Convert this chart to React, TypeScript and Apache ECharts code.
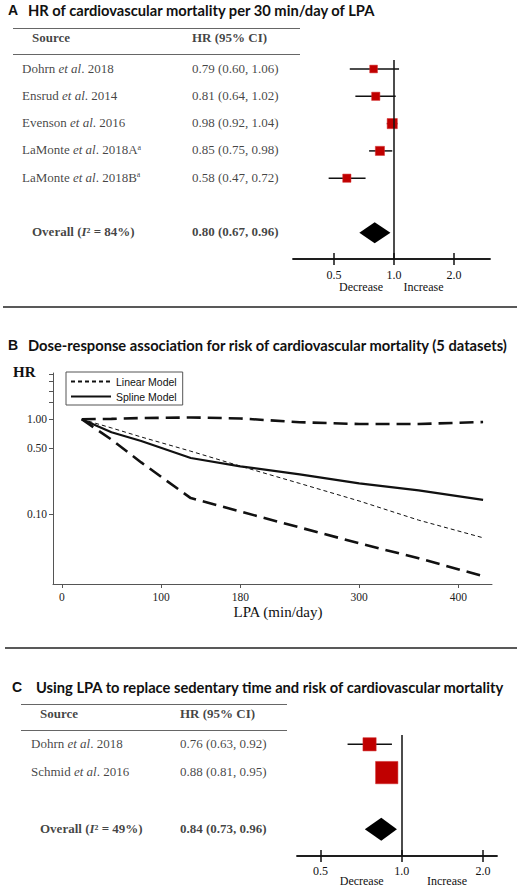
import React, { useEffect, useRef } from "react";
import * as echarts from "echarts";

// ---- Panel A: HR per 30 min/day of LPA ----
const authorsA = ["Dohrn", "Ensrud", "Evenson", "LaMonte", "LaMonte"];
const yearsA = ["2018", "2014", "2016", "2018A", "2018B"];
const notesA = ["", "", "", "a", "a"];
const hrA = [0.79, 0.81, 0.98, 0.85, 0.58];
const lowerA = [0.6, 0.64, 0.92, 0.75, 0.47];
const upperA = [1.06, 1.02, 1.04, 0.98, 0.72];
const weightA = [15, 17, 26, 21, 17];
const overallA = [0.8, 0.67, 0.96]; // HR, lower, upper
const i2A = 84;

// ---- Panel B: dose-response ----
const lpaMinutes = [20, 50, 80, 130, 180, 240, 300, 360, 425];
const linearHR = [1.0, 0.81, 0.65, 0.46, 0.32, 0.21, 0.137, 0.086, 0.056];
const splineHR = [1.0, 0.73, 0.59, 0.39, 0.318, 0.262, 0.21, 0.177, 0.141];
const splineUpperHR = [1.0, 1.01, 1.03, 1.045, 1.02, 0.93, 0.89, 0.89, 0.935];
const splineLowerHR = [1.0, 0.61, 0.35, 0.147, 0.106, 0.072, 0.049, 0.034, 0.022];
const lpaTicks = [0, 100, 180, 300, 400];
const hrTicks = [0.1, 0.5, 1.0];
const hrMinorTicks = [1.5, 2, 2.5, 3];

// ---- Panel C: replacing sedentary time ----
const authorsC = ["Dohrn", "Schmid"];
const yearsC = ["2018", "2016"];
const hrC = [0.76, 0.88];
const lowerC = [0.63, 0.81];
const upperC = [0.92, 0.95];
const weightC = [26, 74];
const overallC = [0.84, 0.73, 0.96];
const i2C = 49;

const forestTicks = [0.5, 1.0, 2.0];

const SERIF = "'Liberation Serif', 'Times New Roman', serif";
const SANS = "'Liberation Sans', Arial, sans-serif";
const TITLE = "Lato, 'Noto Sans', sans-serif";

const rich = {
  n: { fontFamily: SERIF, fontSize: 13, color: "#111" },
  i: { fontFamily: SERIF, fontSize: 13, fontStyle: "italic", color: "#111" },
  sup: { fontFamily: SERIF, fontSize: 8, color: "#111", verticalAlign: "top" },
  h: { fontFamily: SERIF, fontSize: 13, fontWeight: "bold", color: "#111" },
  b: { fontFamily: SERIF, fontSize: 13, fontWeight: "bold", color: "#111" },
  bi: { fontFamily: SERIF, fontSize: 13, fontWeight: "bold", fontStyle: "italic", color: "#111" },
};

const fmt = (v: number) => v.toFixed(2);
const ci = (hr: number, lo: number, hi: number) => `${fmt(hr)} (${fmt(lo)}, ${fmt(hi)})`;

// rows are 0..n-1, pooled estimate sits one empty row below
function tableSeries(
  xAxisIndex: number,
  yAxisIndex: number,
  authors: string[],
  years: string[],
  notes: string[],
  hr: number[],
  lo: number[],
  hi: number[],
  overall: number[],
  i2: number,
  cols: number[], // [study col, hr col, header/overall col]
  headerRow: number,
  lines: number[]
) {
  const data: any[] = [
    { value: [cols[2], headerRow], label: { formatter: "{h|Source}" } },
    { value: [cols[1], headerRow], label: { formatter: "{h|HR (95% CI)}" } },
  ];
  authors.forEach((a, i) => {
    data.push({
      value: [cols[0], i],
      label: {
        formatter: `{n|${a} }{i|et al}{n|. ${years[i]}}` + (notes[i] ? `{sup|${notes[i]}}` : ""),
      },
    });
    data.push({ value: [cols[1], i], label: { formatter: `{n|${ci(hr[i], lo[i], hi[i])}}` } });
  });
  const pooledRow = authors.length + 1;
  data.push({ value: [cols[2], pooledRow], label: { formatter: `{b|Overall (}{bi|I}{b|² = ${i2}%)}` } });
  data.push({ value: [cols[1], pooledRow], label: { formatter: `{b|${ci(overall[0], overall[1], overall[2])}}` } });
  return {
    type: "scatter",
    xAxisIndex,
    yAxisIndex,
    symbolSize: 0,
    silent: true,
    clip: false,
    data,
    label: { show: true, position: "right", distance: 0, offset: [0, -1], rich },
    markLine: {
      silent: true,
      symbol: ["none", "none"],
      label: { show: false },
      lineStyle: { color: "#666", width: 1.2, type: "solid" },
      data: lines.map((y) => ({ yAxis: y })),
    },
  };
}

function forestRender(scale: number, diamondH: number) {
  return (_params: any, api: any) => {
    const est = api.value(0);
    const row = api.value(1);
    const c = api.coord([est, row]);
    const a = api.coord([api.value(2), row]);
    const b = api.coord([api.value(3), row]);
    const w = api.value(4);
    if (w <= 0) {
      return {
        type: "polygon",
        shape: { points: [a, [c[0], c[1] - diamondH / 2], b, [c[0], c[1] + diamondH / 2]] },
        style: { fill: "#000" },
      };
    }
    const s = scale * Math.sqrt(w);
    return {
      type: "group",
      children: [
        {
          type: "line",
          shape: { x1: a[0], y1: a[1], x2: b[0], y2: b[1] },
          style: { stroke: "#111", lineWidth: 1.5 },
        },
        {
          type: "rect",
          shape: { x: c[0] - s / 2, y: c[1] - s / 2, width: s, height: s },
          style: { fill: "#c00000", stroke: "#d43030", lineWidth: 0.5 },
        },
      ],
    };
  };
}

function forestSeries(xAxisIndex: number, yAxisIndex: number, hr: number[], lo: number[], hi: number[], w: number[], overall: number[], scale: number, diamondH: number) {
  const data = hr.map((v, i) => [v, i, lo[i], hi[i], w[i]]);
  data.push([overall[0], hr.length + 1, overall[1], overall[2], 0]);
  return {
    type: "custom",
    xAxisIndex,
    yAxisIndex,
    silent: true,
    data,
    encode: { x: [0, 2, 3], y: 1 },
    renderItem: forestRender(scale, diamondH),
    markLine: {
      silent: true,
      symbol: ["none", "none"],
      label: { show: false },
      lineStyle: { color: "#111", width: 1.5, type: "solid" },
      data: [{ xAxis: 1 }],
    },
  };
}

// two bottom axes on the same grid so the ticks cross the axis line
function forestXAxes(gridIndex: number, min: number, max: number, margin: number) {
  const base = {
    type: "log",
    logBase: 2,
    gridIndex,
    position: "bottom",
    offset: 0,
    min,
    max,
    splitLine: { show: false },
    axisLine: { show: true, onZero: false, lineStyle: { color: "#111", width: 1.5 } },
  };
  return [
    {
      ...base,
      axisTick: { show: true, customValues: forestTicks, length: 6, lineStyle: { color: "#111", width: 1.5 } },
      axisLabel: {
        customValues: forestTicks,
        formatter: (v: number) => Number(v).toFixed(1),
        margin,
        fontFamily: SERIF,
        fontSize: 12,
        color: "#111",
      },
    },
    {
      ...base,
      axisTick: { show: true, inside: true, customValues: forestTicks, length: 6, lineStyle: { color: "#111", width: 1.5 } },
      axisLabel: { show: false },
    },
  ];
}

// y range (in row units) for a grid spanning pixel top..bottom
const rowRange = (top: number, bottom: number, row0: number, step: number) => [(top - row0) / step, (bottom - row0) / step];
// log2 range for a forest axis whose 1.0 sits at oneX
const hrRange = (left: number, right: number, oneX: number, perDoubling: number) => [
  Math.pow(2, (left - oneX) / perDoubling),
  Math.pow(2, (right - oneX) / perDoubling),
];

const hiddenAxis = (gridIndex: number, min: number, max: number, inverse = false) => ({
  type: "value",
  gridIndex,
  min,
  max,
  inverse,
  show: false,
  splitLine: { show: false },
});

function titleText(letter: string, text: string, lx: number, tx: number, y: number) {
  return [
    { type: "text", x: lx, y, style: { text: letter, fontFamily: SANS, fontWeight: "bold", fontSize: 14, fill: "#111", verticalAlign: "middle" } },
    { type: "text", x: tx, y, style: { text, fontFamily: TITLE, fontWeight: "bold", fontSize: 14.7, fill: "#111", verticalAlign: "middle" } },
  ];
}

const noteText = (text: string, x: number, y: number) => ({
  type: "text",
  x,
  y,
  style: { text, fontFamily: SERIF, fontSize: 12, fill: "#111", align: "center", verticalAlign: "middle" },
});

export default function App() {
  const chartRef = useRef<HTMLDivElement>(null);

  useEffect(() => {
    if (!chartRef.current) return;
    const chart = echarts.init(chartRef.current, undefined, { renderer: "svg" });

    const tA = rowRange(28.3, 259, 69, 27.3);
    const fA = rowRange(60, 259, 69, 27.3);
    const tC = rowRange(704, 856, 744.3, 28.3);
    const fC = rowRange(735, 856, 744.3, 28.3);
    const xA = hrRange(293, 490, 394, 60);
    const xC = hrRange(297, 497, 401.7, 81.2);

    const option: any = {
      animation: false,
      backgroundColor: "#fff",
      grid: [
        { left: 13, top: 28.3, width: 287, height: 259 - 28.3 },
        { left: 293, top: 60, width: 197, height: 199 },
        { left: 53, top: 373, width: 439, height: 211 },
        { left: 21, top: 704, width: 266, height: 152 },
        { left: 297, top: 735, width: 200, height: 121 },
      ],
      // xAxis: 0 table A | 1,2 forest A | 3 panel B | 4 table C | 5,6 forest C
      xAxis: [
        hiddenAxis(0, 0, 287),
        ...forestXAxes(1, xA[0], xA[1], 10),
        {
          type: "value",
          gridIndex: 2,
          min: -9,
          max: 434,
          splitLine: { show: false },
          axisLine: { onZero: false, lineStyle: { color: "#555", width: 1 } },
          axisTick: { customValues: lpaTicks, length: 4, lineStyle: { color: "#555" } },
          axisLabel: { customValues: lpaTicks, margin: 7, fontFamily: SERIF, fontSize: 11.5, color: "#222" },
          name: "LPA (min/day)",
          nameLocation: "middle",
          nameGap: 20,
          nameTextStyle: { fontFamily: SERIF, fontSize: 15, color: "#111", verticalAlign: "top", padding: [0, 0, 0, 11] },
        },
        hiddenAxis(3, 0, 266),
        ...forestXAxes(4, xC[0], xC[1], 9),
      ],
      // yAxis: 0 table A | 1 forest A | 2 panel B | 3 table C | 4 forest C
      yAxis: [
        hiddenAxis(0, tA[0], tA[1], true),
        hiddenAxis(1, fA[0], fA[1], true),
        {
          type: "log",
          logBase: 10,
          gridIndex: 2,
          min: 0.0182,
          max: 3.08,
          splitLine: { show: false },
          axisLine: { show: true, onZero: false, lineStyle: { color: "#555", width: 1 } },
          axisTick: { show: true, customValues: [...hrTicks, ...hrMinorTicks], length: 4, lineStyle: { color: "#555" } },
          axisLabel: {
            customValues: hrTicks,
            formatter: (v: number) => Number(v).toFixed(2),
            margin: 6,
            fontFamily: SERIF,
            fontSize: 11.5,
            color: "#222",
          },
        },
        hiddenAxis(3, tC[0], tC[1], true),
        hiddenAxis(4, fC[0], fC[1], true),
      ],
      legend: {
        data: ["Linear Model", "Spline Model"],
        orient: "vertical",
        left: 66,
        top: 372,
        padding: [4, 6, 3, 4],
        itemGap: 4,
        itemWidth: 40,
        itemHeight: 11,
        borderColor: "#555",
        borderWidth: 1,
        selectedMode: false,
        itemStyle: { opacity: 0, color: "transparent", borderWidth: 0 },
        textStyle: { fontFamily: SANS, fontSize: 10.5, color: "#111" },
      },
      series: [
        tableSeries(0, 0, authorsA, yearsA, notesA, hrA, lowerA, upperA, overallA, i2A, [9, 179, 19], -1.12, [tA[0], -0.55]),
        forestSeries(1, 1, hrA, lowerA, upperA, weightA, overallA, 2, 21),
        {
          name: "Linear Model",
          type: "line",
          xAxisIndex: 3,
          yAxisIndex: 2,
          symbol: "none",
          data: lpaMinutes.map((x, i) => [x, linearHR[i]]),
          lineStyle: { color: "#111", width: 1, type: [4, 3] },
          itemStyle: { color: "#111" },
        },
        {
          name: "Spline Model",
          type: "line",
          xAxisIndex: 3,
          yAxisIndex: 2,
          symbol: "none",
          data: lpaMinutes.map((x, i) => [x, splineHR[i]]),
          lineStyle: { color: "#111", width: 2.2 },
          itemStyle: { color: "#111" },
        },
        {
          name: "Upper 95% CI",
          type: "line",
          xAxisIndex: 3,
          yAxisIndex: 2,
          symbol: "none",
          data: lpaMinutes.map((x, i) => [x, splineUpperHR[i]]),
          lineStyle: { color: "#111", width: 2.6, type: [14, 7] },
        },
        {
          name: "Lower 95% CI",
          type: "line",
          xAxisIndex: 3,
          yAxisIndex: 2,
          symbol: "none",
          data: lpaMinutes.map((x, i) => [x, splineLowerHR[i]]),
          lineStyle: { color: "#111", width: 2.6, type: [14, 7] },
        },
        tableSeries(4, 3, authorsC, yearsC, ["", ""], hrC, lowerC, upperC, overallC, i2C, [10, 159, 19], -1.06, [tC[0], -0.51]),
        forestSeries(5, 4, hrC, lowerC, upperC, weightC, overallC, 2.6, 23),
      ],
      graphic: [
        ...titleText("A", "HR of cardiovascular mortality per 30 min/day of LPA", 8, 28, 10),
        ...titleText("B", "Dose-response association for risk of cardiovascular mortality (5 datasets)", 8, 28, 345),
        ...titleText("C", "Using LPA to replace sedentary time and risk of cardiovascular mortality", 12, 36, 687),
        noteText("Decrease", 361, 287),
        noteText("Increase", 423.5, 287),
        noteText("Decrease", 361.7, 880.5),
        noteText("Increase", 447, 881),
        {
          type: "text",
          x: 13,
          y: 372,
          style: { text: "HR", fontFamily: SERIF, fontWeight: "bold", fontSize: 15, fill: "#111", verticalAlign: "middle" },
        },
        { type: "line", shape: { x1: 3, y1: 307, x2: 517, y2: 307 }, style: { stroke: "#222", lineWidth: 1.5 } },
        { type: "line", shape: { x1: 5, y1: 648, x2: 517, y2: 648 }, style: { stroke: "#222", lineWidth: 1.5 } },
      ],
    };

    chart.setOption(option);
    return () => chart.dispose();
  }, []);

  return <div ref={chartRef} style={{ position: "absolute", left: 0, top: 0, width: 520, height: 888 }} />;
}
